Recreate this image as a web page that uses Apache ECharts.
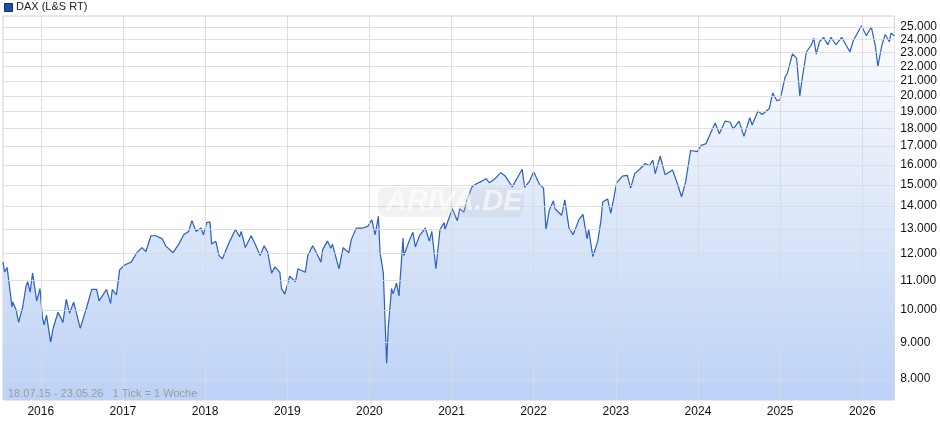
<!DOCTYPE html>
<html><head><meta charset="utf-8">
<script src="https://cdn.jsdelivr.net/npm/echarts@6/dist/echarts.min.js"></script>
<style>html,body{margin:0;padding:0;background:#fff}#c{width:940px;height:435px}</style>
</head><body><div id="c"></div>
<script>
const times = [2015.54,2015.56,2015.59,2015.65,2015.66,2015.70,2015.73,2015.78,2015.82,2015.84,2015.87,2015.90,2015.95,2015.99,2016.02,2016.04,2016.07,2016.12,2016.15,2016.21,2016.27,2016.31,2016.35,2016.40,2016.48,2016.56,2016.62,2016.68,2016.71,2016.80,2016.85,2016.87,2016.92,2016.96,2017.02,2017.10,2017.17,2017.23,2017.28,2017.34,2017.40,2017.48,2017.52,2017.61,2017.68,2017.74,2017.80,2017.84,2017.89,2017.95,2017.98,2018.02,2018.06,2018.08,2018.13,2018.17,2018.21,2018.29,2018.37,2018.42,2018.44,2018.49,2018.56,2018.61,2018.67,2018.72,2018.76,2018.81,2018.85,2018.91,2018.93,2018.97,2019.03,2019.10,2019.13,2019.22,2019.25,2019.31,2019.35,2019.41,2019.43,2019.49,2019.53,2019.55,2019.63,2019.68,2019.75,2019.78,2019.84,2019.92,2019.98,2020.03,2020.07,2020.11,2020.13,2020.17,2020.21,2020.23,2020.27,2020.29,2020.33,2020.36,2020.41,2020.42,2020.49,2020.53,2020.56,2020.61,2020.68,2020.73,2020.76,2020.81,2020.86,2020.91,2020.92,2020.97,2021.01,2021.07,2021.10,2021.15,2021.19,2021.25,2021.31,2021.37,2021.42,2021.46,2021.53,2021.60,2021.65,2021.74,2021.79,2021.86,2021.89,2021.95,2022.00,2022.07,2022.12,2022.15,2022.19,2022.24,2022.26,2022.34,2022.38,2022.43,2022.48,2022.55,2022.60,2022.65,2022.67,2022.72,2022.78,2022.82,2022.84,2022.90,2022.94,2022.96,2023.01,2023.08,2023.14,2023.18,2023.23,2023.30,2023.36,2023.41,2023.45,2023.48,2023.54,2023.60,2023.69,2023.75,2023.80,2023.85,2023.91,2023.99,2024.04,2024.10,2024.15,2024.21,2024.26,2024.33,2024.39,2024.43,2024.50,2024.56,2024.63,2024.66,2024.73,2024.78,2024.87,2024.91,2024.96,2025.00,2025.06,2025.09,2025.15,2025.20,2025.24,2025.27,2025.32,2025.38,2025.41,2025.44,2025.48,2025.53,2025.58,2025.62,2025.68,2025.75,2025.78,2025.85,2025.89,2025.99,2026.05,2026.11,2026.16,2026.19,2026.24,2026.28,2026.33,2026.35,2026.39];
const values = [11680,11310,11480,10100,10260,10000,9610,10100,10800,10960,10600,11270,10300,10720,9770,9530,9840,9010,9430,9930,9610,10350,9900,10260,9430,10100,10690,10690,10300,10690,10220,10690,10500,11390,11570,11680,12040,12240,12080,12720,12720,12590,12310,12040,12380,12760,12900,13350,12900,13040,12760,13270,13300,12380,12500,11930,11800,12420,12980,12680,12900,12240,12720,12380,11930,12310,12080,11270,11500,11300,10720,10530,11160,10960,11430,11300,11930,12310,12080,11680,12150,12500,12210,12380,11430,12240,12040,12560,13040,13040,13110,13390,12760,13550,12040,11270,8420,9460,10720,10540,10920,10470,12630,11930,12560,12860,12270,12720,13040,12500,12900,11430,12980,13270,12980,13470,13880,13350,13880,13730,14330,14900,15060,15180,15300,15100,15300,15600,15450,14900,15260,15770,14880,15180,15640,15020,14840,12980,13810,14240,13880,13590,14290,13040,12760,13390,13630,12590,12980,11890,12500,13390,14190,14330,13680,13750,15090,15430,15460,14840,15550,15810,16070,15950,16250,15550,16450,15500,15740,15050,14430,15140,16760,16700,17040,17140,17690,18320,17690,18430,18380,17970,18430,17540,18630,18200,19050,18830,19200,20190,19700,19750,21240,21540,22910,22600,20000,21200,23050,23580,24100,22900,23830,24170,23600,24170,23600,24170,23830,23050,23900,25100,24300,25000,23500,22000,23600,24400,23830,24500,24300];
const yTicks = [8000,9000,10000,11000,12000,13000,14000,15000,16000,17000,18000,19000,20000,21000,22000,23000,24000,25000];
const yearTicks = [2016,2017,2018,2019,2020,2021,2022,2023,2024,2025,2026];
const seriesName = 'DAX (L&S RT)';
const noteText = '18.07.15 - 23.05.26   1 Tick = 1 Woche';

const fmt = v => String(v).replace(/(\d)(\d{3})$/, '$1.$2');
const chart = echarts.init(document.getElementById('c'));
const grid = '#d9d9d9';
chart.setOption({
  animation:false,
  grid:{left:3,right:42,top:16,bottom:35,show:true,borderColor:'#d0d0d0',borderWidth:1},
  graphic:[
    {type:'rect',left:4,top:3,shape:{width:8,height:8},style:{fill:'#1f4fa8',stroke:'#0b2d6b',lineWidth:1}},
    {type:'text',left:16,top:1,style:{text:seriesName,font:'11px "Liberation Sans", Arial, sans-serif',fill:'#222'}},
    {type:'text',left:8,top:388,z:10,style:{text:noteText,font:'11px "Liberation Sans", Arial, sans-serif',fill:'#9a9a9a'}},
    {type:'rect',left:378,top:187,z:9,shape:{width:146,height:30,r:8},style:{fill:'rgba(190,190,190,0.2)'}},
    {type:'text',left:386,top:187,z:10,style:{text:'ARIVA.DE',font:'italic bold 29px "Liberation Sans", Arial, sans-serif',fill:'rgba(255,255,255,0.6)'}}
  ],
  xAxis:{type:'value',min:2015.54,max:2026.39,
    axisLine:{show:false},axisTick:{show:false},splitLine:{show:false},
    axisLabel:{customValues:yearTicks,formatter:v=>String(Math.round(v)),color:'#111',fontSize:12,margin:6,fontFamily:'"Liberation Sans", Arial, sans-serif'}},
  yAxis:{type:'log',logBase:10,position:'right',min:7475,max:25900,
    axisLine:{show:false},axisTick:{show:false},splitLine:{show:false},
    axisLabel:{customValues:yTicks,formatter:v=>fmt(Math.round(v)),color:'#111',fontSize:12,margin:6,fontFamily:'"Liberation Sans", Arial, sans-serif'}},
  series:[{
    type:'line',name:seriesName,showSymbol:false,
    data:times.map((t,i)=>[t,values[i]]),
    lineStyle:{color:'#2a5fc4',width:1.2},
    areaStyle:{origin:'start',opacity:1,color:new echarts.graphic.LinearGradient(0,16,0,400,[{offset:0,color:'#ffffff'},{offset:0.5,color:'#dde8fa'},{offset:1,color:'#bcd2f6'}],true)},
    markLine:{silent:true,symbol:'none',label:{show:false},animation:false,
      lineStyle:{color:grid,type:'solid',width:1,opacity:0.85},
      data:yTicks.map(v=>({yAxis:v})).concat(yearTicks.map(v=>({xAxis:v})))}
  }]
});
</script></body></html>
